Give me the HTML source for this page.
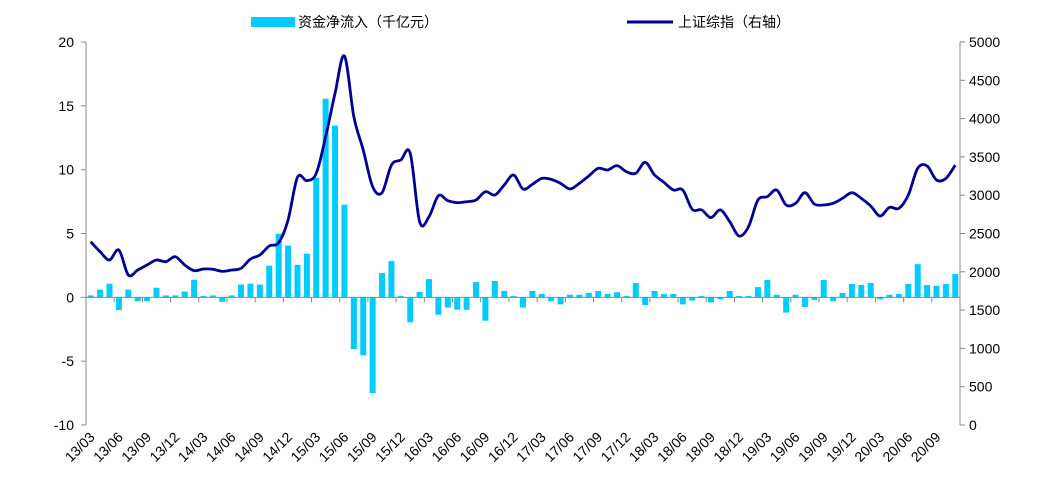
<!DOCTYPE html>
<html><head><meta charset="utf-8"><style>
body{margin:0;background:#fff;}
svg{display:block;font-family:"Liberation Sans","Noto Sans CJK SC",sans-serif;}
</style></head><body>
<svg id="chart" width="1064" height="494"></svg>
<script>
const categories=[];
for(let i=0;i<93;i++){const y=13+Math.floor((i+2)/12);const m=((i+2)%12)+1;categories.push(String(y).padStart(2,'0')+'/'+String(m).padStart(2,'0'));}
const flowValues=[0.15,0.6,1.07,-1.0,0.6,-0.3,-0.3,0.75,0.15,0.15,0.45,1.38,0.1,0.15,-0.35,0.15,1.0,1.07,1.0,2.48,4.98,4.05,2.55,3.42,9.37,15.55,13.45,7.26,-4.05,-4.54,-7.5,1.9,2.84,0.1,-1.96,0.42,1.43,-1.36,-0.8,-0.97,-0.97,1.2,-1.83,1.28,0.5,0.1,-0.8,0.5,0.26,-0.3,-0.55,0.2,0.2,0.35,0.5,0.26,0.4,0.1,1.12,-0.6,0.5,0.26,0.26,-0.55,-0.25,0.1,-0.4,-0.15,0.5,0.1,0.1,0.8,1.36,0.2,-1.2,0.2,-0.75,-0.2,1.36,-0.3,0.34,1.05,0.97,1.12,-0.15,0.2,0.26,1.05,2.6,0.97,0.9,1.05,1.83];
const indexValues=[2393,2262,2154,2284,1958,2023,2089,2154,2132,2197,2089,2015,2037,2033,2006,2023,2045,2167,2219,2337,2380,2676,3233,3190,3285,3764,4330,4817,4025,3590,3111,3033,3394,3460,3547,2654,2720,2994,2928,2902,2915,2937,3046,3002,3133,3264,3081,3142,3220,3207,3155,3081,3155,3251,3351,3329,3386,3307,3286,3429,3264,3168,3068,3068,2816,2808,2707,2808,2654,2467,2590,2937,2981,3068,2872,2894,3033,2885,2872,2894,2959,3033,2959,2859,2728,2841,2828,3002,3351,3382,3198,3220,3394];
const leftTicks=[-10,-5,0,5,10,15,20];
const rightTicks=[0,500,1000,1500,2000,2500,3000,3500,4000,4500,5000];

const NS='http://www.w3.org/2000/svg';
const svg=document.getElementById('chart');
const X0=86,X1=960,YT=42,YB=425;
const n=categories.length, pitch=(X1-X0)/n;
const xc=i=>X0+pitch*(i+0.5);
const yL=v=>YB-(v+10)/30*(YB-YT);
const yR=v=>YB-v/5000*(YB-YT);
function el(t,a,p){const e=document.createElementNS(NS,t);for(const k in a)e.setAttribute(k,a[k]);(p||svg).appendChild(e);return e;}

let a=el('line',{x1:X0,y1:YT,x2:X0,y2:YB,stroke:'#888','stroke-width':1});


a=el('line',{x1:X1,y1:YT,x2:X1,y2:YB,stroke:'#888','stroke-width':1});


leftTicks.forEach(v=>{
  el('line',{x1:X0-5,x2:X0,y1:yL(v),y2:yL(v),stroke:'#888'});
  const t=el('text',{x:74,y:yL(v)+5,'text-anchor':'end','font-size':14,fill:'#000'});t.textContent=v;
  
  
});
rightTicks.forEach(v=>{
  el('line',{x1:X1,x2:X1+5,y1:yR(v),y2:yR(v),stroke:'#888'});
  const t=el('text',{x:969,y:yR(v)+5,'font-size':14,fill:'#000'});t.textContent=v;
  
  
});
flowValues.forEach((v,i)=>{
  const y0=yL(0),y1=yL(v);
  const b=el('rect',{x:xc(i)-3,y:Math.min(y0,y1),width:6,height:Math.max(0.8,Math.abs(y1-y0)),fill:'#00ccff'});
  
  
});
a=el('line',{x1:X0,y1:yL(0),x2:X1,y2:yL(0),stroke:'#888'});


categories.forEach((c,i)=>{
  if(i%3!==0)return;
  const x=X0+pitch*i;
  el('line',{x1:x,x2:x,y1:yL(0),y2:yL(0)+5,stroke:'#888'});
  const t=el('text',{x:0,y:0,'text-anchor':'end','font-size':14,fill:'#000',transform:`translate(${xc(i)+5},438) rotate(-45)`});
  t.textContent=c;
  
  
});
const pts=indexValues.map((v,i)=>[xc(i),yR(v)]);
let d=`M${pts[0][0]},${pts[0][1]}`;
for(let i=0;i<pts.length-1;i++){
  const p0=pts[Math.max(0,i-1)],p1=pts[i],p2=pts[i+1],p3=pts[Math.min(pts.length-1,i+2)];
  d+=`C${p1[0]+(p2[0]-p0[0])/6},${p1[1]+(p2[1]-p0[1])/6} ${p2[0]-(p3[0]-p1[0])/6},${p2[1]-(p3[1]-p1[1])/6} ${p2[0]},${p2[1]}`;
}
const ln=el('path',{d:d,fill:'none',stroke:'#000099','stroke-width':2.8});


const g1=el('g',{});


el('rect',{x:251,y:17,width:44,height:10,fill:'#00ccff'},g1);
let t=el('text',{x:298,y:27,'font-size':14,fill:'#000'},g1);t.textContent='资金净流入（千亿元）';
const g2=el('g',{});


el('line',{x1:627,x2:673,y1:22,y2:22,stroke:'#000099','stroke-width':3},g2);
t=el('text',{x:678,y:27,'font-size':14,fill:'#000'},g2);t.textContent='上证综指（右轴）';
</script>
</body></html>
